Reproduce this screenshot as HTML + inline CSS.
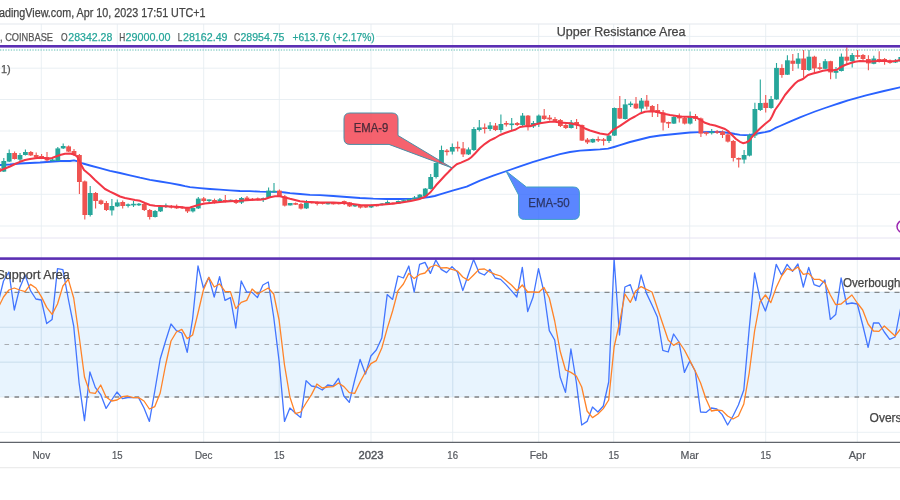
<!DOCTYPE html><html><head><meta charset="utf-8"><title>chart</title><style>
html,body{margin:0;padding:0;background:#fff;}body{width:900px;height:500px;overflow:hidden;font-family:"Liberation Sans",sans-serif;}svg{display:block;filter:blur(0.35px);}text{font-family:"Liberation Sans",sans-serif;paint-order:stroke;}.b{stroke:#444;stroke-width:0.25px;}.tl{stroke:#26a69a;stroke-width:0.25px;}.gl{stroke:#555;stroke-width:0.25px;}
</style></head><body>
<svg width="900" height="500" viewBox="0 0 900 500">
<rect x="0" y="0" width="900" height="500" fill="#ffffff"/>
<g stroke="#e5ecf1" stroke-width="0.85" fill="none">
<line x1="41.3" y1="24" x2="41.3" y2="442"/>
<line x1="117.3" y1="24" x2="117.3" y2="442"/>
<line x1="203.7" y1="24" x2="203.7" y2="442"/>
<line x1="279.3" y1="24" x2="279.3" y2="442"/>
<line x1="371" y1="24" x2="371" y2="442"/>
<line x1="452.7" y1="24" x2="452.7" y2="442"/>
<line x1="538.7" y1="24" x2="538.7" y2="442"/>
<line x1="613.7" y1="24" x2="613.7" y2="442"/>
<line x1="689.7" y1="24" x2="689.7" y2="442"/>
<line x1="765.7" y1="24" x2="765.7" y2="442"/>
<line x1="857.3" y1="24" x2="857.3" y2="442"/>
<line x1="376" y1="36.4" x2="900" y2="36.4"/>
<line x1="0" y1="68.2" x2="900" y2="68.2"/>
<line x1="0" y1="99.5" x2="900" y2="99.5"/>
<line x1="0" y1="131" x2="900" y2="131"/>
<line x1="0" y1="162.6" x2="900" y2="162.6"/>
<line x1="0" y1="194.3" x2="900" y2="194.3"/>
<line x1="0" y1="226" x2="900" y2="226"/>
<line x1="0" y1="292.3" x2="900" y2="292.3"/>
<line x1="0" y1="327.3" x2="900" y2="327.3"/>
<line x1="0" y1="362.2" x2="900" y2="362.2"/>
<line x1="0" y1="397" x2="900" y2="397"/>
<line x1="0" y1="432.3" x2="900" y2="432.3"/>
</g>
<rect x="0" y="291.8" width="900" height="105" fill="#2196f3" fill-opacity="0.1"/>
<g stroke="#cfe1f0" stroke-width="1" fill="none" stroke-opacity="0.8">
<line x1="41.3" y1="292.3" x2="41.3" y2="396.8"/>
<line x1="117.3" y1="292.3" x2="117.3" y2="396.8"/>
<line x1="203.7" y1="292.3" x2="203.7" y2="396.8"/>
<line x1="279.3" y1="292.3" x2="279.3" y2="396.8"/>
<line x1="371" y1="292.3" x2="371" y2="396.8"/>
<line x1="452.7" y1="292.3" x2="452.7" y2="396.8"/>
<line x1="538.7" y1="292.3" x2="538.7" y2="396.8"/>
<line x1="613.7" y1="292.3" x2="613.7" y2="396.8"/>
<line x1="689.7" y1="292.3" x2="689.7" y2="396.8"/>
<line x1="765.7" y1="292.3" x2="765.7" y2="396.8"/>
<line x1="857.3" y1="292.3" x2="857.3" y2="396.8"/>
<line x1="0" y1="327.3" x2="900" y2="327.3"/>
<line x1="0" y1="362.2" x2="900" y2="362.2"/>
</g>
<line x1="0" y1="24" x2="900" y2="24" stroke="#e3e8ee" stroke-width="1.2"/>
<line x1="0" y1="238" x2="900" y2="238" stroke="#e6e3f2" stroke-width="1"/>
<line x1="-5.5" y1="292.3" x2="900" y2="292.3" stroke="#686868" stroke-width="0.95" stroke-dasharray="5 5"/>
<line x1="4.5" y1="344.5" x2="900" y2="344.5" stroke="#a9adb2" stroke-width="1" stroke-dasharray="4.6 5.4"/>
<line x1="4.5" y1="397" x2="900" y2="397" stroke="#9b9ea2" stroke-width="1.9" stroke-dasharray="4.6 5.4"/>
<line x1="0" y1="50" x2="900" y2="50" stroke="#7fcac2" stroke-width="1.6" stroke-dasharray="1.3 1.4" stroke-opacity="0.85"/>
<polyline fill="none" stroke="#2962ff" stroke-width="1.85" stroke-linejoin="round" stroke-linecap="round" points="0,165 10,164.5 20,163.5 40,162.5 60,161 70,161 74,160.3 77,161.2 83,163.5 90,165.5 100,168.2 110,170.8 120,173 130,175.3 140,177.7 150,179.8 160,181.5 170,183.2 180,185 185,186.2 190,187.2 200,188.2 210,189 220,189.7 230,190.3 240,191 250,191.2 260,191.7 270,191.8 280,191.8 285,192.5 290,193.2 300,194 310,194.8 320,195.2 333.3,196 346.7,197 360,198 373.3,198.7 386.7,199 400,199 413.3,198.7 421.3,198 429.3,197 434.7,196 440,194.4 453.3,190.3 466.7,186.6 480,180.6 493.3,175.7 506.7,171 520,166.3 533.3,161.8 546.7,157.8 560,154.2 570,152 580,150.6 590,150 600,149.4 608,148.7 614,147 620,145.2 630,142 640,139.5 650,137 660,135.5 670,134.5 680,133.5 690,132.5 700,132.1 710,132 720,132 730,133 735,134 740,134.8 745,135.2 750,134.8 755,134 760,133 765,132.2 770,131 775,128.2 780,126 790,121.6 800,117.4 806,115 815,111.5 825,108 835,104.7 840,103 848,100.3 866,95.4 884,91 900,87.3"/>
<g>
<line x1="-1.6" y1="167" x2="-1.6" y2="173" stroke="#ef5350" stroke-width="1.1"/>
<rect x="-4" y="168" width="4.8" height="4" fill="#ef5350"/>
<line x1="3.8" y1="158" x2="3.8" y2="172" stroke="#26a69a" stroke-width="1.1"/>
<rect x="1.4" y="161" width="4.8" height="10.6" fill="#26a69a"/>
<line x1="9.2" y1="149.4" x2="9.2" y2="162" stroke="#26a69a" stroke-width="1.1"/>
<rect x="6.8" y="153" width="4.8" height="8.6" fill="#26a69a"/>
<line x1="14.6" y1="151.4" x2="14.6" y2="159.6" stroke="#ef5350" stroke-width="1.1"/>
<rect x="12.2" y="153" width="4.8" height="6" fill="#ef5350"/>
<line x1="20" y1="153" x2="20" y2="161.4" stroke="#26a69a" stroke-width="1.1"/>
<rect x="17.6" y="155" width="4.8" height="4.6" fill="#26a69a"/>
<line x1="25.4" y1="149.4" x2="25.4" y2="155.6" stroke="#26a69a" stroke-width="1.1"/>
<rect x="23" y="152" width="4.8" height="3" fill="#26a69a"/>
<line x1="30.8" y1="151" x2="30.8" y2="156" stroke="#ef5350" stroke-width="1.1"/>
<rect x="28.4" y="152" width="4.8" height="3.4" fill="#ef5350"/>
<line x1="36.2" y1="152.4" x2="36.2" y2="158" stroke="#ef5350" stroke-width="1.1"/>
<rect x="33.8" y="155" width="4.8" height="2.4" fill="#ef5350"/>
<line x1="41.6" y1="154" x2="41.6" y2="158.4" stroke="#ef5350" stroke-width="1.1"/>
<rect x="39.2" y="156" width="4.8" height="1.6" fill="#ef5350"/>
<line x1="47" y1="152" x2="47" y2="161.4" stroke="#ef5350" stroke-width="1.1"/>
<rect x="44.6" y="157" width="4.8" height="3.4" fill="#ef5350"/>
<line x1="52.4" y1="158" x2="52.4" y2="161.6" stroke="#26a69a" stroke-width="1.1"/>
<rect x="50" y="159.5" width="4.8" height="1.6" fill="#26a69a"/>
<line x1="57.8" y1="147" x2="57.8" y2="161" stroke="#26a69a" stroke-width="1.1"/>
<rect x="55.4" y="148.4" width="4.8" height="12.6" fill="#26a69a"/>
<line x1="63.2" y1="143.6" x2="63.2" y2="149" stroke="#26a69a" stroke-width="1.1"/>
<rect x="60.8" y="146" width="4.8" height="2.4" fill="#26a69a"/>
<line x1="68.6" y1="145.6" x2="68.6" y2="152" stroke="#ef5350" stroke-width="1.1"/>
<rect x="66.2" y="146.4" width="4.8" height="5.2" fill="#ef5350"/>
<line x1="74" y1="149" x2="74" y2="156" stroke="#ef5350" stroke-width="1.1"/>
<rect x="71.6" y="151" width="4.8" height="4" fill="#ef5350"/>
<line x1="79.4" y1="154" x2="79.4" y2="194" stroke="#ef5350" stroke-width="1.1"/>
<rect x="77" y="155" width="4.8" height="27" fill="#ef5350"/>
<line x1="84.8" y1="180.4" x2="84.8" y2="219.4" stroke="#ef5350" stroke-width="1.1"/>
<rect x="82.4" y="181.4" width="4.8" height="33.6" fill="#ef5350"/>
<line x1="90.2" y1="186" x2="90.2" y2="216.6" stroke="#26a69a" stroke-width="1.1"/>
<rect x="87.8" y="193" width="4.8" height="22" fill="#26a69a"/>
<line x1="95.6" y1="192" x2="95.6" y2="208.4" stroke="#ef5350" stroke-width="1.1"/>
<rect x="93.2" y="193" width="4.8" height="8" fill="#ef5350"/>
<line x1="101" y1="199.4" x2="101" y2="205" stroke="#ef5350" stroke-width="1.1"/>
<rect x="98.6" y="200.4" width="4.8" height="3.6" fill="#ef5350"/>
<line x1="106.4" y1="201" x2="106.4" y2="211" stroke="#ef5350" stroke-width="1.1"/>
<rect x="104" y="203" width="4.8" height="7" fill="#ef5350"/>
<line x1="111.9" y1="199" x2="111.9" y2="215.4" stroke="#26a69a" stroke-width="1.1"/>
<rect x="109.5" y="206" width="4.8" height="4.4" fill="#26a69a"/>
<line x1="117.3" y1="199.6" x2="117.3" y2="207" stroke="#26a69a" stroke-width="1.1"/>
<rect x="114.9" y="202.4" width="4.8" height="4" fill="#26a69a"/>
<line x1="122.7" y1="200.4" x2="122.7" y2="208.4" stroke="#ef5350" stroke-width="1.1"/>
<rect x="120.3" y="202" width="4.8" height="4" fill="#ef5350"/>
<line x1="128.1" y1="203.6" x2="128.1" y2="207.6" stroke="#26a69a" stroke-width="1.1"/>
<rect x="125.7" y="204.3" width="4.8" height="1.6" fill="#26a69a"/>
<line x1="133.5" y1="201" x2="133.5" y2="207" stroke="#26a69a" stroke-width="1.1"/>
<rect x="131.1" y="203.8" width="4.8" height="1.6" fill="#26a69a"/>
<line x1="138.9" y1="203" x2="138.9" y2="206" stroke="#26a69a" stroke-width="1.1"/>
<rect x="136.5" y="203.7" width="4.8" height="1.6" fill="#26a69a"/>
<line x1="144.3" y1="203" x2="144.3" y2="211" stroke="#ef5350" stroke-width="1.1"/>
<rect x="141.9" y="204" width="4.8" height="6" fill="#ef5350"/>
<line x1="149.7" y1="209" x2="149.7" y2="219.6" stroke="#ef5350" stroke-width="1.1"/>
<rect x="147.3" y="210" width="4.8" height="7" fill="#ef5350"/>
<line x1="155.1" y1="210" x2="155.1" y2="217.6" stroke="#26a69a" stroke-width="1.1"/>
<rect x="152.7" y="211" width="4.8" height="6" fill="#26a69a"/>
<line x1="160.5" y1="206" x2="160.5" y2="212" stroke="#26a69a" stroke-width="1.1"/>
<rect x="158.1" y="207" width="4.8" height="4.4" fill="#26a69a"/>
<line x1="165.9" y1="203.6" x2="165.9" y2="208" stroke="#26a69a" stroke-width="1.1"/>
<rect x="163.5" y="205.4" width="4.8" height="1.6" fill="#26a69a"/>
<line x1="171.3" y1="205" x2="171.3" y2="208.6" stroke="#ef5350" stroke-width="1.1"/>
<rect x="168.9" y="205.9" width="4.8" height="1.6" fill="#ef5350"/>
<line x1="176.7" y1="204.4" x2="176.7" y2="209" stroke="#ef5350" stroke-width="1.1"/>
<rect x="174.3" y="206" width="4.8" height="2.4" fill="#ef5350"/>
<line x1="182.1" y1="206" x2="182.1" y2="209" stroke="#ef5350" stroke-width="1.1"/>
<rect x="179.7" y="206.7" width="4.8" height="1.6" fill="#ef5350"/>
<line x1="187.5" y1="207" x2="187.5" y2="213" stroke="#ef5350" stroke-width="1.1"/>
<rect x="185.1" y="208" width="4.8" height="3.4" fill="#ef5350"/>
<line x1="192.9" y1="207.4" x2="192.9" y2="212.4" stroke="#26a69a" stroke-width="1.1"/>
<rect x="190.5" y="208" width="4.8" height="3.4" fill="#26a69a"/>
<line x1="198.3" y1="197" x2="198.3" y2="209" stroke="#26a69a" stroke-width="1.1"/>
<rect x="195.9" y="198.6" width="4.8" height="9.8" fill="#26a69a"/>
<line x1="203.7" y1="197" x2="203.7" y2="202.4" stroke="#ef5350" stroke-width="1.1"/>
<rect x="201.3" y="198.4" width="4.8" height="2.6" fill="#ef5350"/>
<line x1="209.1" y1="199.6" x2="209.1" y2="203" stroke="#26a69a" stroke-width="1.1"/>
<rect x="206.7" y="199.4" width="4.8" height="1.6" fill="#26a69a"/>
<line x1="214.5" y1="198.6" x2="214.5" y2="203.6" stroke="#ef5350" stroke-width="1.1"/>
<rect x="212.1" y="200" width="4.8" height="2.6" fill="#ef5350"/>
<line x1="219.9" y1="198" x2="219.9" y2="202.4" stroke="#26a69a" stroke-width="1.1"/>
<rect x="217.5" y="199.4" width="4.8" height="2" fill="#26a69a"/>
<line x1="225.3" y1="195" x2="225.3" y2="202.4" stroke="#ef5350" stroke-width="1.1"/>
<rect x="222.9" y="200" width="4.8" height="1.6" fill="#ef5350"/>
<line x1="230.7" y1="199.6" x2="230.7" y2="202" stroke="#26a69a" stroke-width="1.1"/>
<rect x="228.3" y="199.8" width="4.8" height="1.6" fill="#26a69a"/>
<line x1="236.1" y1="199" x2="236.1" y2="204" stroke="#ef5350" stroke-width="1.1"/>
<rect x="233.7" y="200.4" width="4.8" height="2.6" fill="#ef5350"/>
<line x1="241.5" y1="197" x2="241.5" y2="204" stroke="#26a69a" stroke-width="1.1"/>
<rect x="239.1" y="198" width="4.8" height="4.6" fill="#26a69a"/>
<line x1="247" y1="196" x2="247" y2="201" stroke="#ef5350" stroke-width="1.1"/>
<rect x="244.6" y="197.6" width="4.8" height="2.4" fill="#ef5350"/>
<line x1="252.4" y1="198" x2="252.4" y2="200.6" stroke="#ef5350" stroke-width="1.1"/>
<rect x="250" y="198.7" width="4.8" height="1.6" fill="#ef5350"/>
<line x1="257.8" y1="197.6" x2="257.8" y2="200.4" stroke="#ef5350" stroke-width="1.1"/>
<rect x="255.4" y="198.3" width="4.8" height="1.6" fill="#ef5350"/>
<line x1="263.2" y1="197.6" x2="263.2" y2="202" stroke="#26a69a" stroke-width="1.1"/>
<rect x="260.8" y="198.2" width="4.8" height="1.6" fill="#26a69a"/>
<line x1="268.6" y1="187.6" x2="268.6" y2="198" stroke="#26a69a" stroke-width="1.1"/>
<rect x="266.2" y="190.6" width="4.8" height="7" fill="#26a69a"/>
<line x1="274" y1="183" x2="274" y2="192.4" stroke="#26a69a" stroke-width="1.1"/>
<rect x="271.6" y="190.7" width="4.8" height="1.6" fill="#26a69a"/>
<line x1="279.4" y1="189.4" x2="279.4" y2="197" stroke="#ef5350" stroke-width="1.1"/>
<rect x="277" y="190.6" width="4.8" height="5.8" fill="#ef5350"/>
<line x1="284.8" y1="195" x2="284.8" y2="206.6" stroke="#ef5350" stroke-width="1.1"/>
<rect x="282.4" y="196.4" width="4.8" height="9.2" fill="#ef5350"/>
<line x1="290.2" y1="203" x2="290.2" y2="205.6" stroke="#26a69a" stroke-width="1.1"/>
<rect x="287.8" y="203" width="4.8" height="2.4" fill="#26a69a"/>
<line x1="295.6" y1="202.6" x2="295.6" y2="205" stroke="#ef5350" stroke-width="1.1"/>
<rect x="293.2" y="203.1" width="4.8" height="1.6" fill="#ef5350"/>
<line x1="301" y1="203" x2="301" y2="209.6" stroke="#ef5350" stroke-width="1.1"/>
<rect x="298.6" y="204" width="4.8" height="4.6" fill="#ef5350"/>
<line x1="306.4" y1="200" x2="306.4" y2="209" stroke="#26a69a" stroke-width="1.1"/>
<rect x="304" y="202.4" width="4.8" height="6" fill="#26a69a"/>
<line x1="311.8" y1="201.6" x2="311.8" y2="203.6" stroke="#ef5350" stroke-width="1.1"/>
<rect x="309.4" y="201.7" width="4.8" height="1.6" fill="#ef5350"/>
<line x1="317.2" y1="201.6" x2="317.2" y2="205.6" stroke="#ef5350" stroke-width="1.1"/>
<rect x="314.8" y="202" width="4.8" height="2" fill="#ef5350"/>
<line x1="322.6" y1="202" x2="322.6" y2="204.4" stroke="#ef5350" stroke-width="1.1"/>
<rect x="320.2" y="202.3" width="4.8" height="1.6" fill="#ef5350"/>
<line x1="328" y1="202.4" x2="328" y2="204.6" stroke="#26a69a" stroke-width="1.1"/>
<rect x="325.6" y="202.7" width="4.8" height="1.6" fill="#26a69a"/>
<line x1="333.4" y1="202.4" x2="333.4" y2="204.6" stroke="#ef5350" stroke-width="1.1"/>
<rect x="331" y="202.7" width="4.8" height="1.6" fill="#ef5350"/>
<line x1="338.8" y1="202.4" x2="338.8" y2="204.4" stroke="#ef5350" stroke-width="1.1"/>
<rect x="336.4" y="202.6" width="4.8" height="1.6" fill="#ef5350"/>
<line x1="344.2" y1="200.4" x2="344.2" y2="205" stroke="#ef5350" stroke-width="1.1"/>
<rect x="341.8" y="201" width="4.8" height="3" fill="#ef5350"/>
<line x1="349.6" y1="202" x2="349.6" y2="207" stroke="#ef5350" stroke-width="1.1"/>
<rect x="347.2" y="202.4" width="4.8" height="4" fill="#ef5350"/>
<line x1="355" y1="204" x2="355" y2="207" stroke="#26a69a" stroke-width="1.1"/>
<rect x="352.6" y="204.6" width="4.8" height="1.8" fill="#26a69a"/>
<line x1="360.4" y1="204.4" x2="360.4" y2="208.4" stroke="#ef5350" stroke-width="1.1"/>
<rect x="358" y="205" width="4.8" height="2.6" fill="#ef5350"/>
<line x1="365.8" y1="205.4" x2="365.8" y2="208" stroke="#ef5350" stroke-width="1.1"/>
<rect x="363.4" y="205.9" width="4.8" height="1.6" fill="#ef5350"/>
<line x1="371.2" y1="204.4" x2="371.2" y2="208" stroke="#26a69a" stroke-width="1.1"/>
<rect x="368.8" y="205" width="4.8" height="2.4" fill="#26a69a"/>
<line x1="376.6" y1="204.4" x2="376.6" y2="206.6" stroke="#ef5350" stroke-width="1.1"/>
<rect x="374.2" y="204.7" width="4.8" height="1.6" fill="#ef5350"/>
<line x1="382.1" y1="203" x2="382.1" y2="205.6" stroke="#26a69a" stroke-width="1.1"/>
<rect x="379.7" y="203.5" width="4.8" height="1.6" fill="#26a69a"/>
<line x1="387.5" y1="200.4" x2="387.5" y2="205" stroke="#26a69a" stroke-width="1.1"/>
<rect x="385.1" y="202" width="4.8" height="2.6" fill="#26a69a"/>
<line x1="392.9" y1="202.4" x2="392.9" y2="204.6" stroke="#ef5350" stroke-width="1.1"/>
<rect x="390.5" y="202.7" width="4.8" height="1.6" fill="#ef5350"/>
<line x1="398.3" y1="200.4" x2="398.3" y2="204" stroke="#26a69a" stroke-width="1.1"/>
<rect x="395.9" y="201" width="4.8" height="2.6" fill="#26a69a"/>
<line x1="403.7" y1="199.6" x2="403.7" y2="202" stroke="#26a69a" stroke-width="1.1"/>
<rect x="401.3" y="200.2" width="4.8" height="1.6" fill="#26a69a"/>
<line x1="409.1" y1="198.4" x2="409.1" y2="201.4" stroke="#26a69a" stroke-width="1.1"/>
<rect x="406.7" y="199" width="4.8" height="2" fill="#26a69a"/>
<line x1="414.5" y1="196" x2="414.5" y2="200" stroke="#26a69a" stroke-width="1.1"/>
<rect x="412.1" y="197.6" width="4.8" height="1.8" fill="#26a69a"/>
<line x1="419.9" y1="194" x2="419.9" y2="199.4" stroke="#26a69a" stroke-width="1.1"/>
<rect x="417.5" y="194.6" width="4.8" height="4.4" fill="#26a69a"/>
<line x1="425.3" y1="188" x2="425.3" y2="196.4" stroke="#26a69a" stroke-width="1.1"/>
<rect x="422.9" y="188.6" width="4.8" height="7.4" fill="#26a69a"/>
<line x1="430.7" y1="174" x2="430.7" y2="189.6" stroke="#26a69a" stroke-width="1.1"/>
<rect x="428.3" y="177" width="4.8" height="12" fill="#26a69a"/>
<line x1="436.1" y1="162.4" x2="436.1" y2="178.4" stroke="#26a69a" stroke-width="1.1"/>
<rect x="433.7" y="163" width="4.8" height="14" fill="#26a69a"/>
<line x1="441.5" y1="145.6" x2="441.5" y2="163.6" stroke="#26a69a" stroke-width="1.1"/>
<rect x="439.1" y="150" width="4.8" height="13" fill="#26a69a"/>
<line x1="446.9" y1="149" x2="446.9" y2="155.6" stroke="#ef5350" stroke-width="1.1"/>
<rect x="444.5" y="150.5" width="4.8" height="1.6" fill="#ef5350"/>
<line x1="452.3" y1="143.6" x2="452.3" y2="154.4" stroke="#26a69a" stroke-width="1.1"/>
<rect x="449.9" y="147" width="4.8" height="4.6" fill="#26a69a"/>
<line x1="457.7" y1="141.6" x2="457.7" y2="151.6" stroke="#ef5350" stroke-width="1.1"/>
<rect x="455.3" y="146.9" width="4.8" height="1.6" fill="#ef5350"/>
<line x1="463.1" y1="142" x2="463.1" y2="157" stroke="#ef5350" stroke-width="1.1"/>
<rect x="460.7" y="148.4" width="4.8" height="6" fill="#ef5350"/>
<line x1="468.5" y1="147.4" x2="468.5" y2="155" stroke="#26a69a" stroke-width="1.1"/>
<rect x="466.1" y="149.4" width="4.8" height="5" fill="#26a69a"/>
<line x1="473.9" y1="127" x2="473.9" y2="151" stroke="#26a69a" stroke-width="1.1"/>
<rect x="471.5" y="129" width="4.8" height="21" fill="#26a69a"/>
<line x1="479.3" y1="120" x2="479.3" y2="131.6" stroke="#26a69a" stroke-width="1.1"/>
<rect x="476.9" y="127.4" width="4.8" height="2.6" fill="#26a69a"/>
<line x1="484.7" y1="123.5" x2="484.7" y2="133.4" stroke="#ef5350" stroke-width="1.1"/>
<rect x="482.3" y="127.4" width="4.8" height="1.6" fill="#ef5350"/>
<line x1="490.1" y1="122" x2="490.1" y2="131" stroke="#26a69a" stroke-width="1.1"/>
<rect x="487.7" y="125.4" width="4.8" height="3.6" fill="#26a69a"/>
<line x1="495.5" y1="123" x2="495.5" y2="131" stroke="#ef5350" stroke-width="1.1"/>
<rect x="493.1" y="125.6" width="4.8" height="4.4" fill="#ef5350"/>
<line x1="500.9" y1="114.4" x2="500.9" y2="132.4" stroke="#26a69a" stroke-width="1.1"/>
<rect x="498.5" y="124" width="4.8" height="6" fill="#26a69a"/>
<line x1="506.3" y1="121" x2="506.3" y2="126.4" stroke="#ef5350" stroke-width="1.1"/>
<rect x="503.9" y="123" width="4.8" height="1.6" fill="#ef5350"/>
<line x1="511.7" y1="118" x2="511.7" y2="130" stroke="#26a69a" stroke-width="1.1"/>
<rect x="509.3" y="123.5" width="4.8" height="1.6" fill="#26a69a"/>
<line x1="517.2" y1="122" x2="517.2" y2="126" stroke="#ef5350" stroke-width="1.1"/>
<rect x="514.8" y="123" width="4.8" height="2" fill="#ef5350"/>
<line x1="522.6" y1="113" x2="522.6" y2="126" stroke="#26a69a" stroke-width="1.1"/>
<rect x="520.2" y="115.6" width="4.8" height="9.4" fill="#26a69a"/>
<line x1="528" y1="115" x2="528" y2="130.4" stroke="#ef5350" stroke-width="1.1"/>
<rect x="525.6" y="115.6" width="4.8" height="11.4" fill="#ef5350"/>
<line x1="533.4" y1="121" x2="533.4" y2="128" stroke="#26a69a" stroke-width="1.1"/>
<rect x="531" y="123" width="4.8" height="3.4" fill="#26a69a"/>
<line x1="538.8" y1="114.4" x2="538.8" y2="127" stroke="#26a69a" stroke-width="1.1"/>
<rect x="536.4" y="115.6" width="4.8" height="8" fill="#26a69a"/>
<line x1="544.2" y1="109" x2="544.2" y2="120" stroke="#ef5350" stroke-width="1.1"/>
<rect x="541.8" y="115.6" width="4.8" height="3.4" fill="#ef5350"/>
<line x1="549.6" y1="115" x2="549.6" y2="120.6" stroke="#ef5350" stroke-width="1.1"/>
<rect x="547.2" y="117.6" width="4.8" height="1.8" fill="#ef5350"/>
<line x1="555" y1="117" x2="555" y2="122" stroke="#ef5350" stroke-width="1.1"/>
<rect x="552.6" y="119" width="4.8" height="2" fill="#ef5350"/>
<line x1="560.4" y1="119" x2="560.4" y2="127" stroke="#ef5350" stroke-width="1.1"/>
<rect x="558" y="120" width="4.8" height="6" fill="#ef5350"/>
<line x1="565.8" y1="124" x2="565.8" y2="129" stroke="#ef5350" stroke-width="1.1"/>
<rect x="563.4" y="125" width="4.8" height="3" fill="#ef5350"/>
<line x1="571.2" y1="120" x2="571.2" y2="128.4" stroke="#26a69a" stroke-width="1.1"/>
<rect x="568.8" y="122.4" width="4.8" height="5.6" fill="#26a69a"/>
<line x1="576.6" y1="119" x2="576.6" y2="129" stroke="#ef5350" stroke-width="1.1"/>
<rect x="574.2" y="122" width="4.8" height="2.4" fill="#ef5350"/>
<line x1="582" y1="124.4" x2="582" y2="141" stroke="#ef5350" stroke-width="1.1"/>
<rect x="579.6" y="125" width="4.8" height="15.6" fill="#ef5350"/>
<line x1="587.4" y1="138" x2="587.4" y2="144" stroke="#ef5350" stroke-width="1.1"/>
<rect x="585" y="139.6" width="4.8" height="2.8" fill="#ef5350"/>
<line x1="592.8" y1="138.4" x2="592.8" y2="143" stroke="#26a69a" stroke-width="1.1"/>
<rect x="590.4" y="139" width="4.8" height="3.4" fill="#26a69a"/>
<line x1="598.2" y1="136.4" x2="598.2" y2="142" stroke="#ef5350" stroke-width="1.1"/>
<rect x="595.8" y="139" width="4.8" height="1.6" fill="#ef5350"/>
<line x1="603.6" y1="138" x2="603.6" y2="145.6" stroke="#ef5350" stroke-width="1.1"/>
<rect x="601.2" y="139.3" width="4.8" height="1.6" fill="#ef5350"/>
<line x1="609" y1="135" x2="609" y2="143" stroke="#26a69a" stroke-width="1.1"/>
<rect x="606.6" y="135.6" width="4.8" height="5.4" fill="#26a69a"/>
<line x1="614.4" y1="107.6" x2="614.4" y2="136" stroke="#26a69a" stroke-width="1.1"/>
<rect x="612" y="108" width="4.8" height="27.6" fill="#26a69a"/>
<line x1="619.8" y1="96" x2="619.8" y2="119" stroke="#ef5350" stroke-width="1.1"/>
<rect x="617.4" y="108" width="4.8" height="10.6" fill="#ef5350"/>
<line x1="625.2" y1="99" x2="625.2" y2="119.6" stroke="#26a69a" stroke-width="1.1"/>
<rect x="622.8" y="104.4" width="4.8" height="14.6" fill="#26a69a"/>
<line x1="630.6" y1="101.6" x2="630.6" y2="107" stroke="#26a69a" stroke-width="1.1"/>
<rect x="628.2" y="103.5" width="4.8" height="1.6" fill="#26a69a"/>
<line x1="636" y1="97" x2="636" y2="109" stroke="#ef5350" stroke-width="1.1"/>
<rect x="633.6" y="103.6" width="4.8" height="4.8" fill="#ef5350"/>
<line x1="641.4" y1="98" x2="641.4" y2="112.4" stroke="#26a69a" stroke-width="1.1"/>
<rect x="639" y="100.6" width="4.8" height="8" fill="#26a69a"/>
<line x1="646.8" y1="95" x2="646.8" y2="109.6" stroke="#ef5350" stroke-width="1.1"/>
<rect x="644.4" y="100.6" width="4.8" height="6" fill="#ef5350"/>
<line x1="652.3" y1="105" x2="652.3" y2="117" stroke="#ef5350" stroke-width="1.1"/>
<rect x="649.9" y="106" width="4.8" height="5.3" fill="#ef5350"/>
<line x1="657.7" y1="104" x2="657.7" y2="117" stroke="#ef5350" stroke-width="1.1"/>
<rect x="655.3" y="110" width="4.8" height="3" fill="#ef5350"/>
<line x1="663.1" y1="110" x2="663.1" y2="130.4" stroke="#ef5350" stroke-width="1.1"/>
<rect x="660.7" y="112.4" width="4.8" height="10.2" fill="#ef5350"/>
<line x1="668.5" y1="121.6" x2="668.5" y2="128" stroke="#ef5350" stroke-width="1.1"/>
<rect x="666.1" y="122" width="4.8" height="1.6" fill="#ef5350"/>
<line x1="673.9" y1="116" x2="673.9" y2="124" stroke="#26a69a" stroke-width="1.1"/>
<rect x="671.5" y="117" width="4.8" height="6.6" fill="#26a69a"/>
<line x1="679.3" y1="113.6" x2="679.3" y2="122.4" stroke="#ef5350" stroke-width="1.1"/>
<rect x="676.9" y="115.6" width="4.8" height="2.8" fill="#ef5350"/>
<line x1="684.7" y1="117" x2="684.7" y2="124.4" stroke="#ef5350" stroke-width="1.1"/>
<rect x="682.3" y="118" width="4.8" height="5.6" fill="#ef5350"/>
<line x1="690.1" y1="111.6" x2="690.1" y2="124.4" stroke="#26a69a" stroke-width="1.1"/>
<rect x="687.7" y="116.6" width="4.8" height="7" fill="#26a69a"/>
<line x1="695.5" y1="114" x2="695.5" y2="121" stroke="#ef5350" stroke-width="1.1"/>
<rect x="693.1" y="116" width="4.8" height="3" fill="#ef5350"/>
<line x1="700.9" y1="117.6" x2="700.9" y2="137" stroke="#ef5350" stroke-width="1.1"/>
<rect x="698.5" y="118.4" width="4.8" height="15.2" fill="#ef5350"/>
<line x1="706.3" y1="131.6" x2="706.3" y2="135.6" stroke="#ef5350" stroke-width="1.1"/>
<rect x="703.9" y="132.2" width="4.8" height="1.6" fill="#ef5350"/>
<line x1="711.7" y1="129" x2="711.7" y2="134.4" stroke="#26a69a" stroke-width="1.1"/>
<rect x="709.3" y="131.6" width="4.8" height="1.6" fill="#26a69a"/>
<line x1="717.1" y1="130" x2="717.1" y2="134" stroke="#ef5350" stroke-width="1.1"/>
<rect x="714.7" y="131.3" width="4.8" height="1.6" fill="#ef5350"/>
<line x1="722.5" y1="130.4" x2="722.5" y2="138" stroke="#ef5350" stroke-width="1.1"/>
<rect x="720.1" y="131.6" width="4.8" height="3.4" fill="#ef5350"/>
<line x1="727.9" y1="133.6" x2="727.9" y2="142.4" stroke="#ef5350" stroke-width="1.1"/>
<rect x="725.5" y="134.4" width="4.8" height="7.2" fill="#ef5350"/>
<line x1="733.3" y1="140" x2="733.3" y2="161.6" stroke="#ef5350" stroke-width="1.1"/>
<rect x="730.9" y="141" width="4.8" height="17" fill="#ef5350"/>
<line x1="738.7" y1="157.6" x2="738.7" y2="167.6" stroke="#ef5350" stroke-width="1.1"/>
<rect x="736.3" y="158" width="4.8" height="1.6" fill="#ef5350"/>
<line x1="744.1" y1="150" x2="744.1" y2="163.6" stroke="#26a69a" stroke-width="1.1"/>
<rect x="741.7" y="155" width="4.8" height="4.6" fill="#26a69a"/>
<line x1="749.5" y1="133.6" x2="749.5" y2="156.4" stroke="#26a69a" stroke-width="1.1"/>
<rect x="747.1" y="135" width="4.8" height="20.6" fill="#26a69a"/>
<line x1="754.9" y1="102.8" x2="754.9" y2="138" stroke="#26a69a" stroke-width="1.1"/>
<rect x="752.5" y="109" width="4.8" height="26.6" fill="#26a69a"/>
<line x1="760.3" y1="79.6" x2="760.3" y2="111" stroke="#26a69a" stroke-width="1.1"/>
<rect x="757.9" y="103" width="4.8" height="7" fill="#26a69a"/>
<line x1="765.7" y1="95" x2="765.7" y2="112.4" stroke="#ef5350" stroke-width="1.1"/>
<rect x="763.3" y="102.8" width="4.8" height="5.2" fill="#ef5350"/>
<line x1="771.1" y1="96" x2="771.1" y2="108.8" stroke="#26a69a" stroke-width="1.1"/>
<rect x="768.7" y="99" width="4.8" height="9" fill="#26a69a"/>
<line x1="776.5" y1="63" x2="776.5" y2="99.8" stroke="#26a69a" stroke-width="1.1"/>
<rect x="774.1" y="67.9" width="4.8" height="31.5" fill="#26a69a"/>
<line x1="781.9" y1="64.3" x2="781.9" y2="77.8" stroke="#ef5350" stroke-width="1.1"/>
<rect x="779.5" y="68" width="4.8" height="7" fill="#ef5350"/>
<line x1="787.4" y1="55.3" x2="787.4" y2="75.1" stroke="#26a69a" stroke-width="1.1"/>
<rect x="785" y="60.3" width="4.8" height="14.4" fill="#26a69a"/>
<line x1="792.8" y1="54" x2="792.8" y2="71" stroke="#ef5350" stroke-width="1.1"/>
<rect x="790.4" y="60.7" width="4.8" height="3.1" fill="#ef5350"/>
<line x1="798.2" y1="53" x2="798.2" y2="68.4" stroke="#26a69a" stroke-width="1.1"/>
<rect x="795.8" y="58.5" width="4.8" height="5.3" fill="#26a69a"/>
<line x1="803.6" y1="50" x2="803.6" y2="77.8" stroke="#ef5350" stroke-width="1.1"/>
<rect x="801.2" y="58.5" width="4.8" height="11.5" fill="#ef5350"/>
<line x1="809" y1="50" x2="809" y2="71" stroke="#26a69a" stroke-width="1.1"/>
<rect x="806.6" y="56.7" width="4.8" height="13.3" fill="#26a69a"/>
<line x1="814.4" y1="55.8" x2="814.4" y2="72.8" stroke="#ef5350" stroke-width="1.1"/>
<rect x="812" y="56.7" width="4.8" height="11.7" fill="#ef5350"/>
<line x1="819.8" y1="63" x2="819.8" y2="70" stroke="#ef5350" stroke-width="1.1"/>
<rect x="817.4" y="67.3" width="4.8" height="1.6" fill="#ef5350"/>
<line x1="825.2" y1="59" x2="825.2" y2="69.2" stroke="#26a69a" stroke-width="1.1"/>
<rect x="822.8" y="61.2" width="4.8" height="7.6" fill="#26a69a"/>
<line x1="830.6" y1="60.7" x2="830.6" y2="79.2" stroke="#ef5350" stroke-width="1.1"/>
<rect x="828.2" y="61.2" width="4.8" height="11.2" fill="#ef5350"/>
<line x1="836" y1="67" x2="836" y2="78.7" stroke="#26a69a" stroke-width="1.1"/>
<rect x="833.6" y="70.6" width="4.8" height="2.2" fill="#26a69a"/>
<line x1="841.4" y1="53.5" x2="841.4" y2="71.5" stroke="#26a69a" stroke-width="1.1"/>
<rect x="839" y="56.7" width="4.8" height="14.3" fill="#26a69a"/>
<line x1="846.8" y1="47.2" x2="846.8" y2="64.8" stroke="#ef5350" stroke-width="1.1"/>
<rect x="844.4" y="56.7" width="4.8" height="4" fill="#ef5350"/>
<line x1="852.2" y1="53" x2="852.2" y2="67.4" stroke="#26a69a" stroke-width="1.1"/>
<rect x="849.8" y="55" width="4.8" height="6.2" fill="#26a69a"/>
<line x1="857.6" y1="50" x2="857.6" y2="59" stroke="#ef5350" stroke-width="1.1"/>
<rect x="855.2" y="55.2" width="4.8" height="1.6" fill="#ef5350"/>
<line x1="863" y1="54" x2="863" y2="61.2" stroke="#ef5350" stroke-width="1.1"/>
<rect x="860.6" y="55" width="4.8" height="4" fill="#ef5350"/>
<line x1="868.4" y1="55.3" x2="868.4" y2="70.2" stroke="#ef5350" stroke-width="1.1"/>
<rect x="866" y="59" width="4.8" height="4.4" fill="#ef5350"/>
<line x1="873.8" y1="55.8" x2="873.8" y2="64.3" stroke="#26a69a" stroke-width="1.1"/>
<rect x="871.4" y="58.5" width="4.8" height="5.3" fill="#26a69a"/>
<line x1="879.2" y1="51.2" x2="879.2" y2="62.5" stroke="#ef5350" stroke-width="1.1"/>
<rect x="876.8" y="59" width="4.8" height="1.7" fill="#ef5350"/>
<line x1="884.6" y1="58" x2="884.6" y2="64.8" stroke="#ef5350" stroke-width="1.1"/>
<rect x="882.2" y="59" width="4.8" height="3" fill="#ef5350"/>
<line x1="890" y1="59.4" x2="890" y2="63.8" stroke="#ef5350" stroke-width="1.1"/>
<rect x="887.6" y="60.7" width="4.8" height="2.2" fill="#ef5350"/>
<line x1="895.4" y1="58.9" x2="895.4" y2="63" stroke="#26a69a" stroke-width="1.1"/>
<rect x="893" y="60.7" width="4.8" height="1.8" fill="#26a69a"/>
<line x1="900.8" y1="56" x2="900.8" y2="62" stroke="#26a69a" stroke-width="1.1"/>
<rect x="898.4" y="57" width="4.8" height="4.6" fill="#26a69a"/>
</g>
<polyline fill="none" stroke="#f23645" stroke-width="2" stroke-linejoin="round" stroke-linecap="round" points="0,170.5 5,168.5 10,166.5 15,164 20,161.8 25,160 30,159 35,158.2 40,157.8 45,158 48,158.8 52,158 56,156.5 60,155 65,153.8 70,153.6 74,154.5 77,156.5 79,160 81,164.5 84,170 90,175 95,180 100,184.5 105,189 110,191.7 115,194 120,196.5 125,198 130,199 135,200 140,200.8 145,203 150,205 155,205.8 160,206 165,206.2 170,206.5 175,206.8 180,207 185,207.8 190,207.5 195,206 200,204.5 205,203.5 210,203 220,202 230,201.3 240,200.8 250,200 255,199.8 260,199.7 265,199 270,197.2 275,196.2 280,196.2 283,197 287,198 290,198.8 295,200 300,201.2 305,201.8 310,202 320,202.4 333.3,202.4 346.7,203.3 360,205 370.7,205.3 380,204.7 389.3,204 400,202.7 410.7,201 418.7,199.3 425.3,196.7 430.7,192 436,185.3 440,181 445,175.5 448,172.5 452,168.3 456.7,164.3 461,162.6 468.3,159.3 471,157.5 475,153.5 480,148 485,143.8 490,140.4 495,138 500,135 505,133 510,131.2 515,129.8 520,127 525,126.2 530,126.2 535,124.5 540,123.2 545,122.5 550,121.8 555,121.8 560,122.5 570,123.2 580,125.5 585,128.5 590,130.5 600,133.5 608,134.7 610,133 613,130 620,125.8 630,119.1 635,116.5 640,113.5 645,111.8 650,111.2 655,111.5 660,112.8 665,114 670,115 675,115.8 680,116.5 685,116.8 690,116.8 695,117.2 700,119.5 705,122.8 710,124.5 715,125.5 720,127.2 725,129 728,131 732,135 736,139 740,141.8 743,143.2 746,142.5 749,141 752,137 755,133.5 760,128.5 765,124 770,120 772,116.5 775,110 780,103 785,95 790,89 795,83.5 798,81 803,79 808,75 813,73.5 818,72.2 823,70.8 828,70 833,70.2 837,69.8 840,67.5 845,65 850,63.2 855,61.8 860,61 865,61.2 870,61.5 875,61.2 880,60.8 885,61 890,61.2 895,61 900,60.2"/>
<polyline fill="none" stroke="#4275ff" stroke-width="1.3" stroke-linejoin="round" stroke-linecap="round" points="-1.9,303 3.5,281 8.9,272 14.3,310 19.7,288 25.1,275 30.5,290.6 35.9,299 41.3,300 46.7,323.6 52.1,319.4 57.5,268.6 62.9,269.6 68.3,299 73.7,326 79.1,383 84.5,420.6 89.9,372 95.3,387.4 100.7,394.6 106.1,408.4 111.6,400 117,392 122.4,398.6 127.8,397.6 133.2,397.6 138.6,397.6 144,408 149.4,421.4 154.8,391 160.2,359 165.6,341 171,324 176.4,330.6 181.8,333 187.2,352.4 192.6,319 198,266 203.4,288 208.8,277.4 214.2,297 219.6,276.6 225,300.4 230.4,297.6 235.8,328 241.2,281 246.7,292 252.1,292.4 257.5,297.6 262.9,285 268.3,282 273.7,317 279.1,361 284.5,421.4 289.9,408 295.3,413 300.7,417.4 306.1,380.6 311.5,386 316.9,387 322.3,390 327.7,385 333.1,386 338.5,378.4 343.9,396 349.3,402.4 354.7,380 360.1,359.4 365.5,374 370.9,356 376.3,350 381.8,338 387.2,294.6 392.6,299.4 398,276 403.4,278 408.8,266 414.2,292 419.6,264.4 425,262.4 430.4,273.4 435.8,260 441.2,269.4 446.6,272.6 452,266.6 457.4,272 462.8,290.6 468.2,275 473.6,259.4 479,272.6 484.4,275 489.8,269.4 495.2,278 500.6,279.4 506,284.6 511.4,290.6 516.9,297 522.3,267.4 527.7,311.6 533.1,297 538.5,268.6 543.9,292 549.3,330.6 554.7,340 560.1,377 565.5,392.4 570.9,349 576.3,382 581.7,425 587.1,421.4 592.5,407 597.9,412 603.3,406 608.7,382 614.1,259 619.5,335 624.9,287 630.3,284.6 635.7,300.6 641.1,275 646.5,293.4 652,305 657.4,317 662.8,350.4 668.2,352 673.6,334 679,342 684.4,372.4 689.8,361 695.2,371 700.6,412 706,412.4 711.4,408 716.8,409 722.2,414.6 727.6,425 733,416 738.4,405 743.8,390 749.2,329 754.6,273 760,298.6 765.4,311 770.8,294 776.2,264.4 781.6,275 787.1,264.4 792.5,271.4 797.9,264 803.3,287 808.7,267.4 814.1,284.6 819.5,286.6 824.9,280 830.3,319.4 835.7,314.6 841.1,278 846.5,304 851.9,303 857.3,304 862.7,325 868.1,347.4 873.5,323 878.9,323 884.3,332 889.7,339.4 895.1,337 900.5,309"/>
<polyline fill="none" stroke="#ff8328" stroke-width="1.3" stroke-linejoin="round" stroke-linecap="round" points="-1.9,308 3.5,297 8.9,290 14.3,288 19.7,290 25.1,291.6 30.5,284.4 35.9,288 41.3,296.6 46.7,307.4 52.1,314.4 57.5,304 62.9,286 68.3,279.4 73.7,298 79.1,336 84.5,377 89.9,392.6 95.3,393.4 100.7,385 106.1,397 111.6,401 117,400 122.4,396.6 127.8,396 133.2,397.6 138.6,397.6 144,401 149.4,409 154.8,406.6 160.2,393 165.6,365 171,341 176.4,332 181.8,329.4 187.2,338.6 192.6,335 198,313 203.4,290 208.8,277.4 214.2,287 219.6,284 225,291.4 230.4,291.6 235.8,308.6 241.2,302.4 246.7,300.4 252.1,289 257.5,294 262.9,291 268.3,288 273.7,294 279.1,320 284.5,365 289.9,397 295.3,413.6 300.7,412 306.1,403 311.5,394.6 316.9,384 322.3,388 327.7,387 333.1,386.6 338.5,383 343.9,386.6 349.3,392.6 354.7,393.4 360.1,382 365.5,372 370.9,363.6 376.3,360.6 381.8,348 387.2,328.6 392.6,311 398,290.6 403.4,284 408.8,273.4 414.2,278.6 419.6,274.4 425,273 430.4,267 435.8,265 441.2,268 446.6,267.6 452,269.4 457.4,271 462.8,277 468.2,280.4 473.6,275 479,269.4 484.4,269 489.8,272 495.2,274.4 500.6,276 506,280.6 511.4,285 516.9,290.8 522.3,285 527.7,292 533.1,292 538.5,292.4 543.9,287.4 549.3,298 554.7,321 560.1,351 565.5,370 570.9,372.4 576.3,376 581.7,387 587.1,411 592.5,417.6 597.9,414 603.3,408.6 608.7,400 614.1,347 619.5,323 624.9,294 630.3,302.4 635.7,291 641.1,286.6 646.5,289.4 652,292 657.4,308 662.8,324 668.2,340 673.6,345.4 679,342 684.4,350 689.8,360.4 695.2,371 700.6,383 706,399 711.4,411 716.8,410 722.2,410.6 727.6,416 733,419 738.4,416 743.8,404 749.2,373 754.6,331 760,302 765.4,295 770.8,302.6 776.2,287.6 781.6,276 787.1,268.6 792.5,270.6 797.9,267 803.3,274.4 808.7,273.4 814.1,279.4 819.5,279.4 824.9,283 830.3,295 835.7,304.6 841.1,304 846.5,299.4 851.9,295 857.3,303 862.7,310 868.1,324 873.5,331 878.9,331.4 884.3,326 889.7,331 895.1,336 900.5,329"/>
<rect x="0" y="45" width="900" height="2.6" fill="#5b2fb3"/>
<rect x="0" y="257.3" width="900" height="2.6" fill="#5b2fb3"/>
<path d="M350,113 H392 Q398,113 398,119 V135.5 L452.2,168 L389,144.4 H350 Q344,144.4 344,138.4 V119 Q344,113 350,113 Z" fill="#f23645" fill-opacity="0.78" stroke="#4a8fa6" stroke-width="1"/>
<text x="371" y="132" font-size="12" fill="#4a2a38" stroke="#4a2a38" stroke-width="0.25" text-anchor="middle" textLength="34.5" lengthAdjust="spacingAndGlyphs">EMA-9</text>
<path d="M526.4,187 H573.4 Q579.4,187 579.4,193 V213.4 Q579.4,219.4 573.4,219.4 H524.6 Q518.6,219.4 518.6,213.4 V195 L506,171 Z" fill="#2962ff" fill-opacity="0.77" stroke="#3f9fc4" stroke-width="1"/>
<text x="549" y="207" font-size="12" fill="#2b3566" stroke="#2b3566" stroke-width="0.25" text-anchor="middle" textLength="41.5" lengthAdjust="spacingAndGlyphs">EMA-50</text>
<circle cx="903" cy="226.6" r="6" fill="none" stroke="#9c27b0" stroke-width="1.5"/>
<line x1="0" y1="442.4" x2="900" y2="442.4" stroke="#60646b" stroke-width="1.2"/>
<line x1="0" y1="467.6" x2="900" y2="467.6" stroke="#ececec" stroke-width="1.2"/>
<text x="32.4" y="459" font-size="11" fill="#55585e" stroke="#55585e" stroke-width="0.22" textLength="17.8" lengthAdjust="spacingAndGlyphs">Nov</text>
<text x="112" y="459" font-size="11" fill="#55585e" stroke="#55585e" stroke-width="0.22" textLength="10.6" lengthAdjust="spacingAndGlyphs">15</text>
<text x="194.9" y="459" font-size="11" fill="#55585e" stroke="#55585e" stroke-width="0.22" textLength="17.5" lengthAdjust="spacingAndGlyphs">Dec</text>
<text x="274" y="459" font-size="11" fill="#55585e" stroke="#55585e" stroke-width="0.22" textLength="10.6" lengthAdjust="spacingAndGlyphs">15</text>
<text x="358.5" y="459" font-size="11" fill="#55585e" stroke="#55585e" stroke-width="0.42" textLength="25" lengthAdjust="spacingAndGlyphs">2023</text>
<text x="447.3" y="459" font-size="11" fill="#55585e" stroke="#55585e" stroke-width="0.22" textLength="10.7" lengthAdjust="spacingAndGlyphs">16</text>
<text x="529.7" y="459" font-size="11" fill="#55585e" stroke="#55585e" stroke-width="0.22" textLength="18" lengthAdjust="spacingAndGlyphs">Feb</text>
<text x="608.4" y="459" font-size="11" fill="#55585e" stroke="#55585e" stroke-width="0.22" textLength="10.6" lengthAdjust="spacingAndGlyphs">15</text>
<text x="680.6" y="459" font-size="11" fill="#55585e" stroke="#55585e" stroke-width="0.22" textLength="18.3" lengthAdjust="spacingAndGlyphs">Mar</text>
<text x="760.4" y="459" font-size="11" fill="#55585e" stroke="#55585e" stroke-width="0.22" textLength="10.6" lengthAdjust="spacingAndGlyphs">15</text>
<text x="848.7" y="459" font-size="11" fill="#55585e" stroke="#55585e" stroke-width="0.22" textLength="17.2" lengthAdjust="spacingAndGlyphs">Apr</text>
<text x="-1" y="17.4" class="b" font-size="12" fill="#444" textLength="206.5" lengthAdjust="spacingAndGlyphs">adingView.com, Apr 10, 2023 17:51 UTC+1</text>
<text y="41.2" font-size="11">
<tspan class="gl" x="0" fill="#555" textLength="53" lengthAdjust="spacingAndGlyphs">, COINBASE</tspan>
<tspan class="gl" x="61" fill="#555" textLength="6.6" lengthAdjust="spacingAndGlyphs">O</tspan><tspan class="tl" x="68.3" fill="#26a69a" textLength="44" lengthAdjust="spacingAndGlyphs">28342.28</tspan>
<tspan class="gl" x="119.2" fill="#555" textLength="6" lengthAdjust="spacingAndGlyphs">H</tspan><tspan class="tl" x="125.6" fill="#26a69a" textLength="45" lengthAdjust="spacingAndGlyphs">29000.00</tspan>
<tspan class="gl" x="177.8" fill="#555" textLength="4.6" lengthAdjust="spacingAndGlyphs">L</tspan><tspan class="tl" x="183" fill="#26a69a" textLength="44.5" lengthAdjust="spacingAndGlyphs">28162.49</tspan>
<tspan class="gl" x="234" fill="#555" textLength="6.2" lengthAdjust="spacingAndGlyphs">C</tspan><tspan class="tl" x="240.5" fill="#26a69a" textLength="44" lengthAdjust="spacingAndGlyphs">28954.75</tspan>
<tspan class="tl" x="292.4" fill="#26a69a" textLength="82.4" lengthAdjust="spacingAndGlyphs">+613.76 (+2.17%)</tspan>
</text>
<text x="556.7" y="35.7" class="b" font-size="12.5" fill="#444" textLength="128.8" lengthAdjust="spacingAndGlyphs">Upper Resistance Area</text>
<text x="1" y="73.2" class="gl" font-size="11" fill="#555">1)</text>
<text x="-3.5" y="279" class="b" font-size="12" fill="#444" textLength="73.3" lengthAdjust="spacingAndGlyphs">Support Area</text>
<text x="843" y="287.4" class="b" font-size="12" fill="#444" textLength="60.6" lengthAdjust="spacingAndGlyphs">Overbought</text>
<text x="869.6" y="422" class="b" font-size="12" fill="#444">Oversold</text>
</svg></body></html>
